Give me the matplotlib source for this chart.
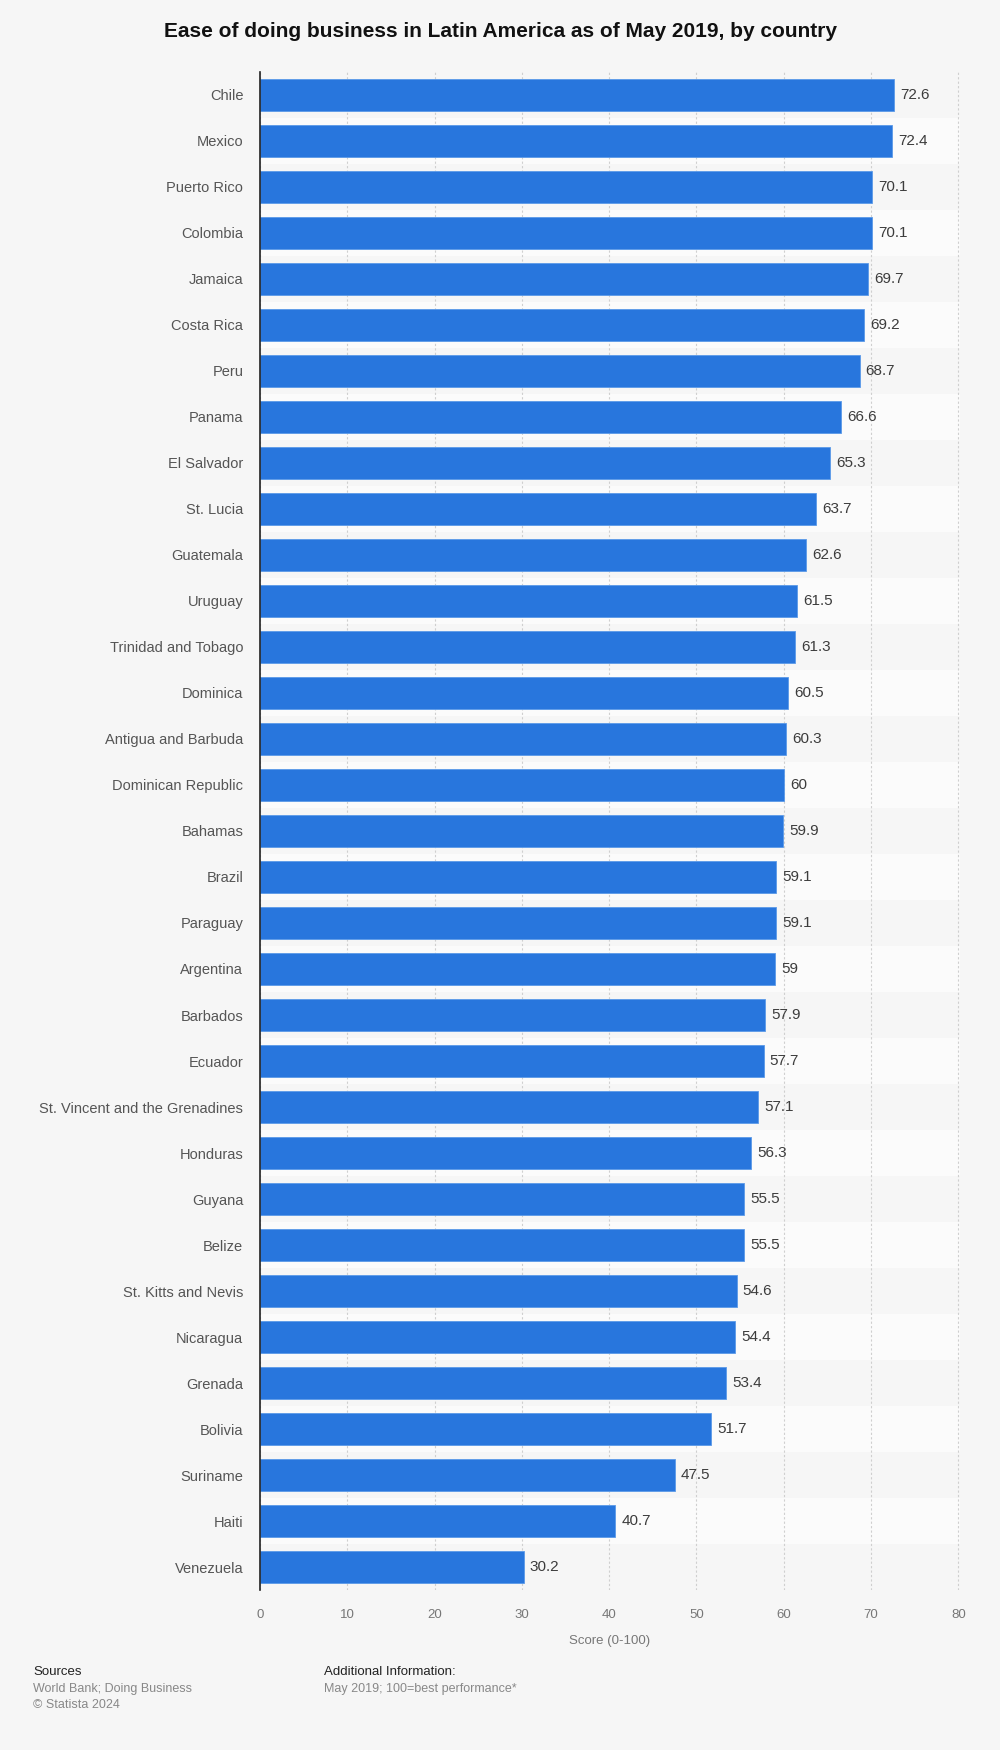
import matplotlib.pyplot as plt

countries = ['Chile', 'Mexico', 'Puerto Rico', 'Colombia', 'Jamaica', 'Costa Rica',
             'Peru', 'Panama', 'El Salvador', 'St. Lucia', 'Guatemala', 'Uruguay',
             'Trinidad and Tobago', 'Dominica', 'Antigua and Barbuda',
             'Dominican Republic', 'Bahamas', 'Brazil', 'Paraguay', 'Argentina',
             'Barbados', 'Ecuador', 'St. Vincent and the Grenadines', 'Honduras',
             'Guyana', 'Belize', 'St. Kitts and Nevis', 'Nicaragua', 'Grenada',
             'Bolivia', 'Suriname', 'Haiti', 'Venezuela']
scores = [72.6, 72.4, 70.1, 70.1, 69.7, 69.2, 68.7, 66.6, 65.3, 63.7, 62.6, 61.5,
          61.3, 60.5, 60.3, 60, 59.9, 59.1, 59.1, 59, 57.9, 57.7, 57.1, 56.3,
          55.5, 55.5, 54.6, 54.4, 53.4, 51.7, 47.5, 40.7, 30.2]
xticks = [0, 10, 20, 30, 40, 50, 60, 70, 80]

plt.rcParams['font.family'] = ['Liberation Sans', 'DejaVu Sans']

bg = '#f6f6f6'
fig = plt.figure(figsize=(10, 17.5), dpi=100, facecolor=bg)
ax = fig.add_axes([0.26, 0.0914, 0.70, 0.8675])
ax.set_facecolor(bg)

n = len(countries)
ypos = list(range(n))

# alternating row bands
for i in ypos:
    if i % 2 == 1:
        ax.axhspan(i - 0.5, i + 0.5, color='#fbfbfb', zorder=0, lw=0)

ax.barh(ypos, scores, height=0.68, color='#2876dd', edgecolor='#5b9ae8',
        linewidth=0.6, zorder=3)

for y, v in zip(ypos, scores):
    ax.text(v + 0.7, y, ('%g' % v), va='center', ha='left', fontsize=11,
            color='#3c3c3c', zorder=4)

ax.set_xlim(0, 80.2)
ax.set_ylim(n - 0.5, -0.5)
ax.set_yticks(ypos)
ax.set_yticklabels(countries, fontsize=10.5, color='#555555')
ax.set_xticks(xticks)
ax.set_xticklabels([str(t) for t in xticks], fontsize=9.5, color='#777777')
ax.tick_params(axis='y', length=0, pad=12)
ax.tick_params(axis='x', length=0, pad=14)
ax.xaxis.grid(True, linestyle=(0, (2, 2)), color='#cfcfcf', linewidth=0.8, zorder=1)
ax.set_axisbelow(True)
for s in ['top', 'right', 'bottom']:
    ax.spines[s].set_visible(False)
ax.spines['left'].set_color('#222222')
ax.spines['left'].set_linewidth(1.2)
ax.spines['left'].set_zorder(5)

ax.set_xlabel('Score (0-100)', fontsize=9.5, color='#777777', labelpad=10)

fig.text(0.5, 0.9874, 'Ease of doing business in Latin America as of May 2019, by country',
         ha='center', va='top', fontsize=15, fontweight='bold', color='#111111')

fig.text(0.033, 0.0445, 'Sources', fontsize=9.5, color='#222222', va='center')
fig.text(0.033, 0.0348, 'World Bank; Doing Business', fontsize=9, color='#888888', va='center')
fig.text(0.033, 0.0257, '\u00a9 Statista 2024', fontsize=9, color='#888888', va='center')
fig.text(0.324, 0.0445, 'Additional Information:', fontsize=9.5, color='#222222', va='center')
fig.text(0.324, 0.0348, 'May 2019; 100=best performance*', fontsize=9, color='#888888', va='center')

fig.savefig('out.png', dpi=100, facecolor=bg)
